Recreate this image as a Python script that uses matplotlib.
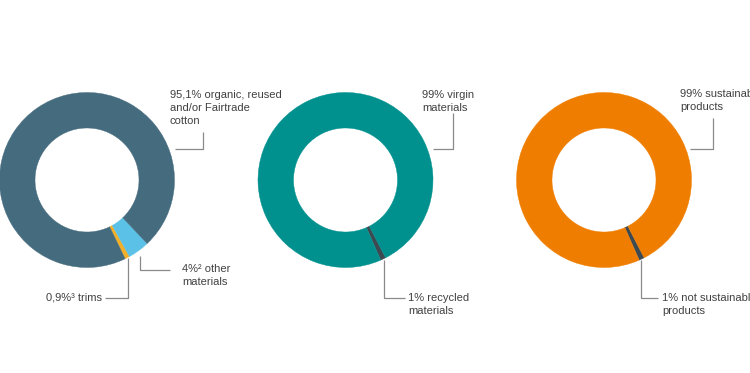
"""
Three donut charts: material shares
"""
import matplotlib
matplotlib.use('Agg')
from matplotlib import pyplot as plt

plt.rcParams['font.family'] = ['Liberation Sans', 'DejaVu Sans']

# data
cottonShares = [0.9, 4.0, 95.1]
cottonColors = ['#f2b02a', '#5bc1e6', '#456b7e']
virginShares = [1.0, 99.0]
virginColors = ['#3e4a52', '#00918f']
sustainShares = [1.0, 99.0]
sustainColors = ['#3e4a52', '#ef7d00']

topLabels = ['95,1% organic, reused\nand/or Fairtrade\ncotton',
             '99% virgin\nmaterials',
             '99% sustainable\nproducts']
bottomLabels = ['4%² other\nmaterials',
                '1% recycled\nmaterials',
                '1% not sustainable\nproducts']
trimsLabel = '0,9%³ trims'

W, H = 750, 373
textColor = '#404040'
lineColor = '#8a8a8a'
fs = 8


def py(y):
    """ 像素坐标转数据坐标 """
    return H - y


def draw_donut(ax, shares, cols, cx, start):
    wedges, _ = ax.pie(shares, colors=cols, startangle=start, counterclock=True,
                       center=(cx, py(180)), radius=87.5,
                       wedgeprops=dict(width=35.5, linewidth=0.3))
    for w, c in zip(wedges, cols):
        w.set_edgecolor(c)


def connector(ax, pts):
    xs = [p[0] for p in pts]
    ys = [py(p[1]) for p in pts]
    ax.plot(xs, ys, color=lineColor, linewidth=0.9, solid_capstyle='butt')


def label(ax, x, y, s):
    ax.text(x, py(y), s, fontsize=fs, color=textColor, va='top', ha='left',
            linespacing=1.35)


fig = plt.figure(figsize=(7.5, 3.73), dpi=100)
ax = fig.add_axes([0, 0, 1, 1])

draw_donut(ax, cottonShares, cottonColors, 87, -64.2)
draw_donut(ax, virginShares, virginColors, 345.5, -66.3)
draw_donut(ax, sustainShares, sustainColors, 604, -66.3)

# top labels
label(ax, 170, 90, topLabels[0])
label(ax, 422, 90, topLabels[1])
label(ax, 680, 89, topLabels[2])
connector(ax, [(203, 132), (203, 149), (175, 149)])
connector(ax, [(453, 113), (453, 149), (433, 149)])
connector(ax, [(713, 118), (713, 149), (690, 149)])

# bottom labels
label(ax, 182, 264, bottomLabels[0])
connector(ax, [(140, 256), (140, 270), (170, 270)])
ax.text(46, py(298), trimsLabel, fontsize=fs, color=textColor, va='center', ha='left')
connector(ax, [(105, 298), (128, 298), (128, 258)])

label(ax, 408, 293, bottomLabels[1])
connector(ax, [(384, 260), (384, 298), (405, 298)])
label(ax, 662, 293, bottomLabels[2])
connector(ax, [(641, 260), (641, 298), (658, 298)])

ax.set_xlim(0, W)
ax.set_ylim(0, H)
ax.set_aspect('auto')
ax.axis('off')
fig.savefig('out.png', dpi=100, facecolor='white')
